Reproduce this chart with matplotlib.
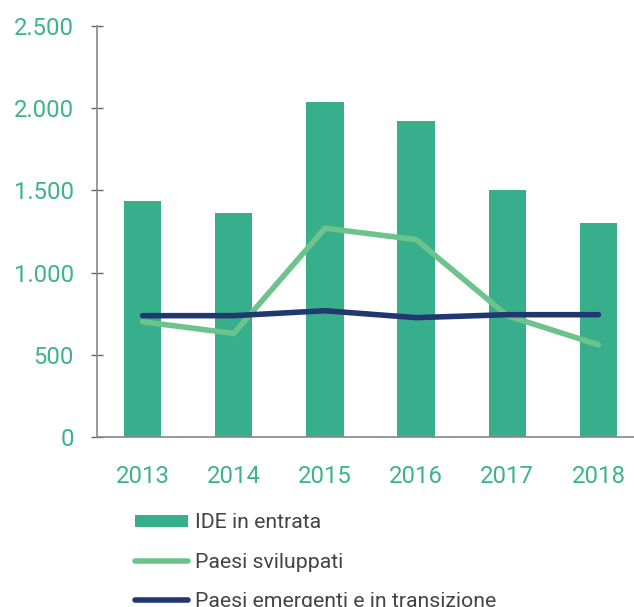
import matplotlib
matplotlib.use("Agg")
import matplotlib.pyplot as plt

# Data
years = ["2013", "2014", "2015", "2016", "2017", "2018"]
ide_entrata = [1433, 1360, 2037, 1921, 1500, 1299]
paesi_sviluppati = [701, 630, 1270, 1201, 738, 561]
paesi_emergenti = [738, 738, 768, 726, 744, 744]

BAR_GREEN = "#38AF8C"
LIGHT_GREEN = "#6CC38B"
NAVY = "#22366F"
TICK_GREEN = "#3DB38B"

plt.rcParams['font.family'] = ['Roboto', 'DejaVu Sans']

fig = plt.figure(figsize=(6.34, 6.07), dpi=100)
W, H = 634, 607
# axes box in pixels: left 97, right 644, top 26, bottom 437
ax = fig.add_axes([97 / W, 1 - 437 / H, (644 - 97) / W, (437 - 26) / H])

x = range(len(years))
ax.bar(x, ide_entrata, width=0.41, color=BAR_GREEN, label="IDE in entrata", zorder=2)
ax.plot(x, paesi_sviluppati, color=LIGHT_GREEN, lw=4, solid_capstyle='round',
        label="Paesi sviluppati", zorder=3)
ax.plot(x, paesi_emergenti, color=NAVY, lw=4, solid_capstyle='round',
        label="Paesi emergenti e in transizione", zorder=4)

ax.set_xlim(-0.5, 5.5)
ax.set_ylim(0, 2500)
ax.set_yticks([0, 500, 1000, 1500, 2000, 2500])
ax.set_yticklabels(["0", "500", "1.000", "1.500", "2.000", "2.500"])
ax.set_xticks(list(x))
ax.set_xticklabels(years)

for s in ["top", "right"]:
    ax.spines[s].set_visible(False)
for s in ["left", "bottom"]:
    ax.spines[s].set_color("#888888")
    ax.spines[s].set_linewidth(1.2)

ax.tick_params(axis='y', direction='inout', length=9, width=1, color="#666666",
               labelcolor=TICK_GREEN, labelsize=17.2, pad=12)
ax.tick_params(axis='x', length=0, labelcolor=TICK_GREEN, labelsize=17.2, pad=20)

handles, labels = ax.get_legend_handles_labels()
order = [2, 0, 1]
fig.legend([handles[i] for i in order], [labels[i] for i in order],
           loc='upper left', bbox_to_anchor=(126 / W, 1 - 505 / H),
           frameon=False, fontsize=15.3, labelcolor="#444444",
           handlelength=2.5, handleheight=0.5, handletextpad=0.35,
           labelspacing=0.95, borderaxespad=0)

fig.savefig("out.png", dpi=100)
